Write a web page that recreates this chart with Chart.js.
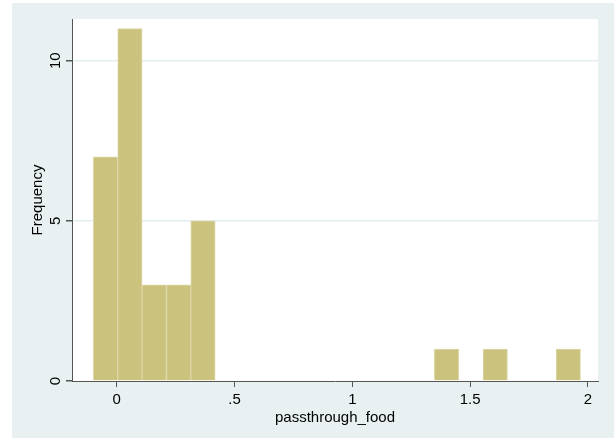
<!DOCTYPE html>
<html>
<head>
<meta charset="utf-8">
<script src="https://cdn.jsdelivr.net/npm/chart.js@4"></script>
<style>
  html, body { margin: 0; padding: 0; background: #ffffff; }
  #wrap { width: 614px; height: 438px; position: relative; }
</style>
</head>
<body>
<div id="wrap"><canvas id="hist"></canvas></div>
<script>
// histogram bins (centres) and counts
const binCentres = [-0.0476, 0.0558, 0.1592, 0.2626, 0.366, 0.4694, 0.5728, 0.6762, 0.7796, 0.883,
    0.9864, 1.0898, 1.1932, 1.2966, 1.400, 1.5034, 1.6068, 1.7102, 1.8136, 1.917];
const counts = [7, 11, 3, 3, 5, 0, 0, 0, 0, 0, 0, 0, 0, 0, 1, 0, 1, 0, 0, 1];
const xTicks = [0, 0.5, 1, 1.5, 2];
const xTickLabels = ["0", ".5", "1", "1.5", "2"];
const yTicks = [0, 5, 10];

const bgColor = "#E8F0F2";
const barColor = "#CBC37D";
const barEdge = "#DDD6A6";
const axisColor = "#555555";
const fontFamily = "'Liberation Sans', Arial, sans-serif";

const backdropPlugin = {
    id: "backdrop",
    beforeDraw(chart) {
        const { ctx, chartArea } = chart;
        ctx.save();
        ctx.fillStyle = bgColor;
        ctx.fillRect(12, 3, chart.width - 12, chart.height - 3);
        ctx.fillStyle = "#ffffff";
        ctx.fillRect(chartArea.left, chartArea.top, chartArea.right - chartArea.left, chartArea.bottom - chartArea.top);
        ctx.restore();
    },
};

// Stata writes the y labels turned on their side
const yLabelPlugin = {
    id: "yLabels",
    afterDraw(chart) {
        const { ctx, scales } = chart;
        ctx.save();
        ctx.fillStyle = "#000000";
        ctx.font = `15px ${fontFamily}`;
        ctx.textAlign = "center";
        ctx.textBaseline = "middle";
        for (const value of yTicks) {
            const y = scales.y.getPixelForValue(value);
            ctx.save();
            ctx.translate(56, y);
            ctx.rotate(-Math.PI / 2);
            ctx.fillText(String(value), 0, 0);
            ctx.restore();
        }
        ctx.restore();
    },
};

new Chart(document.getElementById("hist").getContext("2d"), {
    type: "bar",
    data: {
        labels: binCentres,
        datasets: [{
            data: binCentres.map((x, i) => ({ x, y: counts[i] })),
            backgroundColor: barColor,
            borderColor: barEdge,
            borderWidth: 1,
            borderSkipped: "start",
            barPercentage: 1,
            categoryPercentage: 1,
        }],
    },
    options: {
        responsive: true,
        maintainAspectRatio: false,
        animation: false,
        devicePixelRatio: 1,
        layout: { padding: { left: 12, top: 19, right: 16, bottom: 0 } },
        plugins: {
            legend: { display: false },
            tooltip: { enabled: false },
        },
        scales: {
            x: {
                type: "linear",
                offset: false,
                min: -0.19,
                max: 2.043,
                afterBuildTicks(scale) {
                    scale.ticks = xTicks.map((value) => ({ value }));
                },
                afterFit(scale) {
                    scale.height = 57;
                },
                ticks: {
                    autoSkip: false,
                    maxRotation: 0,
                    padding: 4,
                    color: "#000000",
                    font: { family: fontFamily, size: 15 },
                    callback: (value) => xTickLabels[xTicks.indexOf(value)] ?? "",
                },
                grid: {
                    offset: false,
                    drawOnChartArea: false,
                    tickLength: 6,
                    tickColor: axisColor,
                },
                border: { color: axisColor, width: 1 },
                title: {
                    display: true,
                    text: "passthrough_food",
                    color: "#000000",
                    font: { family: fontFamily, size: 15 },
                    padding: { top: 0, bottom: 11 },
                },
            },
            y: {
                min: 0,
                max: 11.3,
                afterBuildTicks(scale) {
                    scale.ticks = yTicks.map((value) => ({ value }));
                },
                afterFit(scale) {
                    scale.width = 60;
                },
                ticks: { display: false },
                grid: {
                    color: (c) => (c.tick && c.tick.value === 0 ? "rgba(0,0,0,0)" : "#E4EDF0"),
                    lineWidth: 1.5,
                    tickLength: 6,
                    tickColor: axisColor,
                },
                border: { color: axisColor, width: 1 },
                title: {
                    display: true,
                    text: "Frequency",
                    color: "#000000",
                    font: { family: fontFamily, size: 15 },
                    padding: { top: 17, bottom: 0 },
                },
            },
        },
    },
    plugins: [backdropPlugin, yLabelPlugin],
});
</script>
</body>
</html>
